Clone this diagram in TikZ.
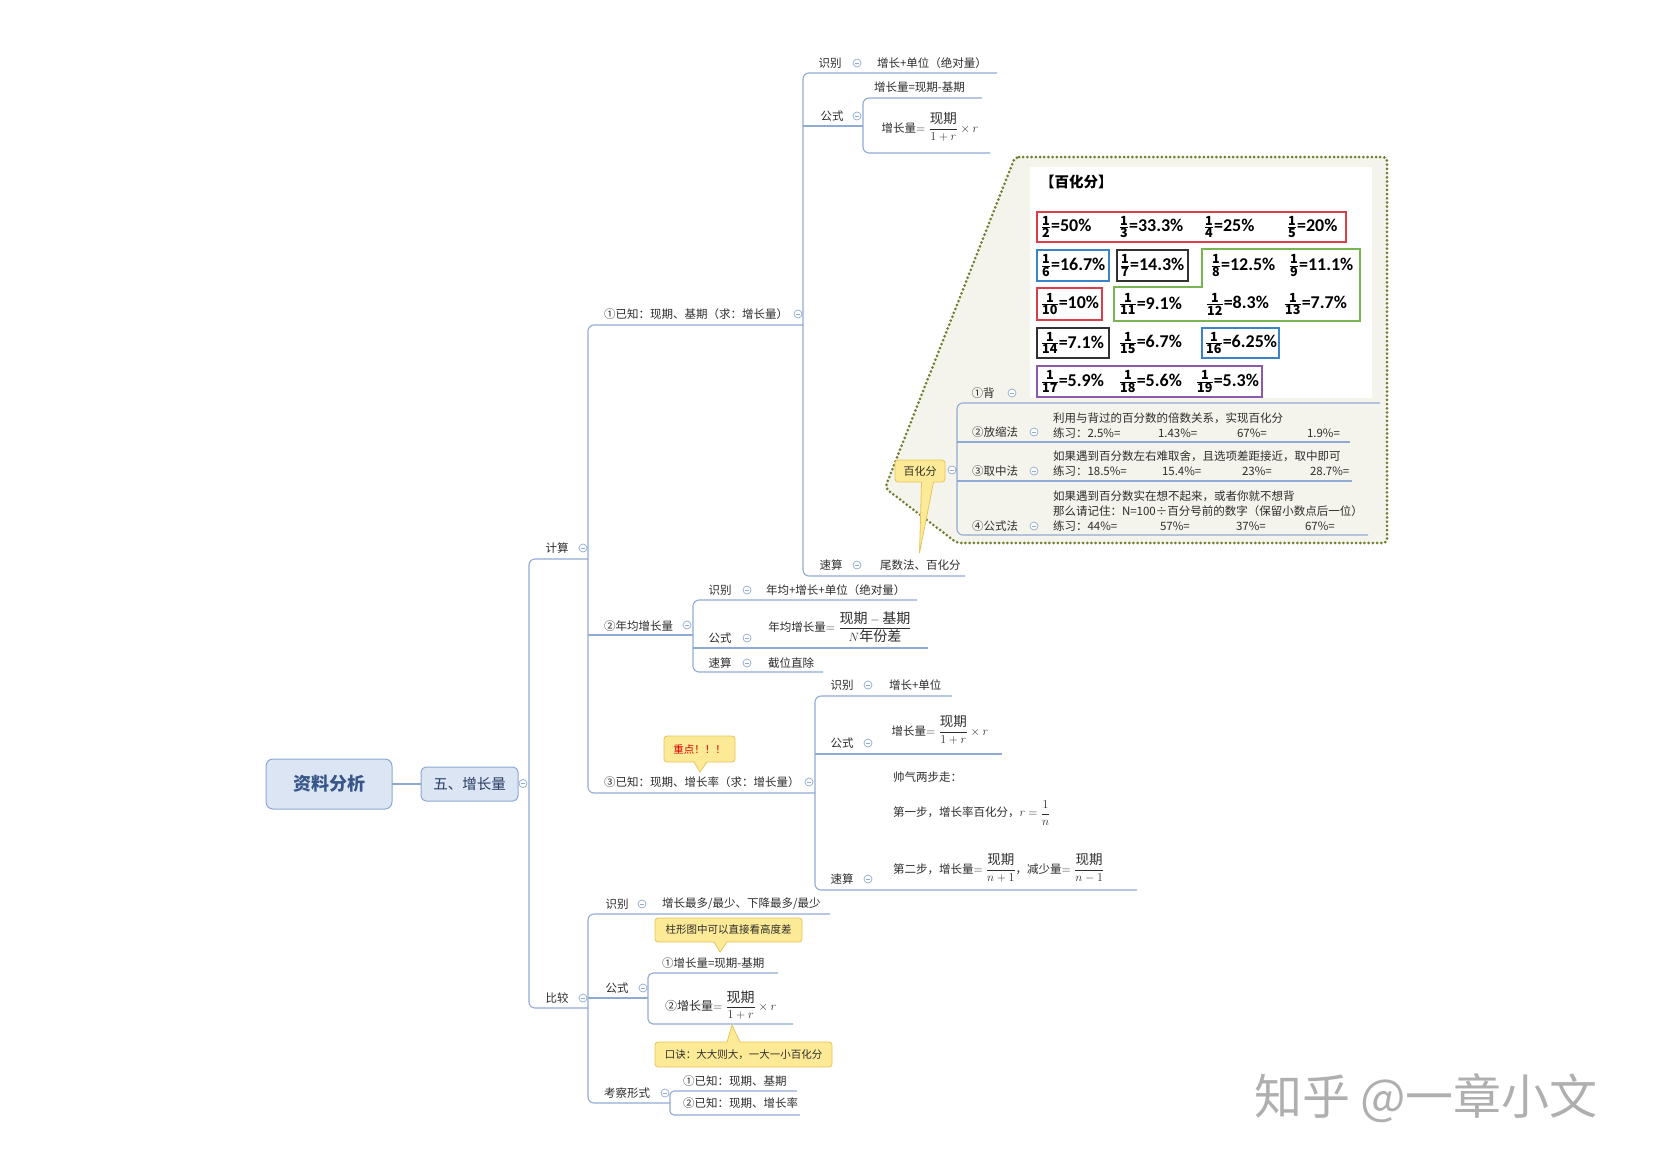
\documentclass[tikz,border=0pt]{standalone}
\usepackage{amsmath}
\usepackage{fontspec}
\setmainfont{Noto Sans CJK SC}
\newfontfamily\calib{Carlito}
\definecolor{lc}{RGB}{143,170,212}
\definecolor{txt}{RGB}{45,45,45}
\definecolor{rootfill}{RGB}{219,229,244}
\definecolor{rootdraw}{RGB}{140,168,210}
\definecolor{roottxt}{RGB}{56,86,138}
\definecolor{cy}{RGB}{253,234,150}
\definecolor{cb}{RGB}{230,196,90}
\definecolor{olive}{RGB}{112,128,48}
\definecolor{zone}{RGB}{245,244,236}
\definecolor{pred}{RGB}{218,62,72}
\definecolor{pblue}{RGB}{60,130,200}
\definecolor{pblack}{RGB}{50,50,50}
\definecolor{pgreen}{RGB}{120,180,80}
\definecolor{ppurple}{RGB}{140,90,170}
\definecolor{wm}{RGB}{175,175,175}
\begin{document}
\begin{tikzpicture}[x=1pt,y=-1pt,
  every node/.style={inner sep=0pt,outer sep=0pt,text=txt,font=\fontsize{11.5}{14}\selectfont},
  ln/.style={draw=lc,line width=1.1pt,rounded corners=6pt},
  cc/.style={circle,draw=lc,line width=0.7pt,minimum size=8pt,fill=white,
    path picture={\draw[lc,line width=0.7pt] ([xshift=-2pt]path picture bounding box.center) -- ([xshift=2pt]path picture bounding box.center);}},
  lw/.style={anchor=west},
  fml/.style={font=\fontsize{11.5}{13}\selectfont},
  callbox/.style={draw=cb,fill=cy,rounded corners=3pt,line width=0.8pt},
  pct/.style={anchor=west,text=black,font=\calib\bfseries\fontsize{18}{18}\selectfont},
  pbox/.style={line width=1.2pt}]
\useasboundingbox (0,0) rectangle (1653,1167);

% ---------- zone of the percentage callout ----------
\fill[zone] (1015,157) -- (1387,157) -- (1387,543) -- (957,543) -- (885,488) -- cycle;
\draw[olive,line width=3pt,line cap=round,dash pattern=on 0pt off 4.2pt,rounded corners=4pt]
  (1015,157) -- (1387,157) -- (1387,543) -- (957,543) -- (885,488) -- cycle;
\fill[white] (1030,167) rectangle (1372,398);

% ---------- root ----------
\node[draw=rootdraw,fill=rootfill,rounded corners=7pt,line width=1pt,minimum width=126pt,minimum height=50pt,
  text=roottxt,font=\bfseries\fontsize{18}{20}\selectfont] (root) at (329,784) {资料分析};
\node[draw=rootdraw,fill=rootfill,rounded corners=5pt,line width=1pt,minimum width=97pt,minimum height=34pt,
  text=roottxt!70!black,font=\fontsize{14.5}{16}\selectfont] (five) at (469.5,784) {五、增长量};
\draw[lc,line width=1.1pt] (root) -- (five);
\node[cc] (c0) at (523,783.5) {};

% ---------- trunk ----------
\draw[ln] (588,559) -- (529,559) -- (529,1008) -- (588,1008);

% ---------- 计算 ----------
\node (calc) at (557,548) {计算};
\node[cc] at (583,548) {};
\draw[ln] (803,325) -- (588,325) -- (588,793) -- (815,793);
\draw[ln] (588,635) -- (693,635);

% ① 已知 现期 基期
\node[lw] (k1) at (604,314) {①已知：现期、基期（求：增长量）};
\node[cc] at (798,314) {};
\draw[ln] (997,73) -- (803,73) -- (803,576) -- (965,576);
\draw[ln] (803,126) -- (863,126);
\node (k1a) at (830,63) {识别};
\node[cc] at (857,63) {};
\node[lw] at (877,63) {增长+单位（绝对量）};
\node (k1b) at (832,116) {公式};
\node[cc] at (857,116) {};
\draw[ln] (982,98) -- (863,98) -- (863,153) -- (990,153);
\node[lw] at (874,87) {增长量=现期-基期};
\node[fml] at (930,127) {增长量$=\dfrac{\text{\fontsize{13.5}{14}\selectfont 现期}}{1+r}\times r$};
\node (k1c) at (831,565) {速算};
\node[cc] at (857,565) {};
\node[lw] (wsf) at (880,565) {尾数法、百化分};

% 百化分 callout
\draw[ln] (1380,403) -- (957,403) -- (957,535) -- (1368,535);
\draw[ln] (957,442) -- (1350,442);
\draw[ln] (957,481) -- (1352,481);
\draw[lc,line width=1.1pt] (955,470) -- (957,470);
\node[callbox,minimum width=50pt,minimum height=22pt,font=\fontsize{11}{12}\selectfont] (bhf) at (920,471) {百化分};
\fill[cy] (921.5,480) -- (919.5,553) -- (933.5,480) -- cycle;
\draw[cb,line width=0.8pt] (921.5,482) -- (919.5,553) -- (933.5,482);
\node[cc] at (952,470) {};

\node at (983,393) {①背};
\node[cc] at (1012,393) {};
\node at (995,432) {②放缩法};
\node[cc] at (1034,432) {};
\node[lw] at (1053,418) {利用与背过的百分数的倍数关系，实现百化分};
\node[lw] at (1053,433) {练习：2.5\%=};
\node[lw] at (1158,433) {1.43\%=};
\node[lw] at (1237,433) {67\%=};
\node[lw] at (1307,433) {1.9\%=};
\node at (995,471) {③取中法};
\node[cc] at (1034,471) {};
\node[lw] at (1053,456) {如果遇到百分数左右难取舍，且选项差距接近，取中即可};
\node[lw] at (1053,471) {练习：18.5\%=};
\node[lw] at (1162,471) {15.4\%=};
\node[lw] at (1242,471) {23\%=};
\node[lw] at (1310,471) {28.7\%=};
\node at (995,526) {④公式法};
\node[cc] at (1034,526) {};
\node[lw] at (1053,496) {如果遇到百分数实在想不起来，或者你就不想背};
\node[lw] at (1053,511) {那么请记住：N=100÷百分号前的数字（保留小数点后一位）};
\node[lw] at (1053,526) {练习：44\%=};
\node[lw] at (1160,526) {57\%=};
\node[lw] at (1236,526) {37\%=};
\node[lw] at (1305,526) {67\%=};

% percentage table
\node[anchor=west,text=black,font=\bfseries\fontsize{14.5}{16}\selectfont] at (1040,182) {【百化分】};
\draw[pred,pbox] (1037,212) rectangle (1346,242);
\draw[pblue,pbox] (1037,250) rectangle (1109,281);
\draw[pblack,pbox] (1117,250) rectangle (1188,281);
\draw[pgreen,pbox] (1202,249) -- (1360,249) -- (1360,321) -- (1114,321) -- (1114,287) -- (1202,287) -- cycle;
\draw[pred,pbox] (1037,288) rectangle (1102,320);
\draw[pblack,pbox] (1037,328) rectangle (1109,358);
\draw[pblue,pbox] (1202,328) rectangle (1279,358);
\draw[ppurple,pbox] (1037,366) rectangle (1262,397);
\node[pct] at (1041,227) {$\frac{\mathbf{1}}{\mathbf{2}}$=50\%};
\node[pct] at (1119,227) {$\frac{\mathbf{1}}{\mathbf{3}}$=33.3\%};
\node[pct] at (1204,227) {$\frac{\mathbf{1}}{\mathbf{4}}$=25\%};
\node[pct] at (1287,227) {$\frac{\mathbf{1}}{\mathbf{5}}$=20\%};
\node[pct] at (1041,265.5) {$\frac{\mathbf{1}}{\mathbf{6}}$=16.7\%};
\node[pct] at (1120,265.5) {$\frac{\mathbf{1}}{\mathbf{7}}$=14.3\%};
\node[pct] at (1211,265.5) {$\frac{\mathbf{1}}{\mathbf{8}}$=12.5\%};
\node[pct] at (1289,265.5) {$\frac{\mathbf{1}}{\mathbf{9}}$=11.1\%};
\node[pct] at (1041,304) {$\frac{\mathbf{1}}{\mathbf{10}}$=10\%};
\node[pct] at (1119,304) {$\frac{\mathbf{1}}{\mathbf{11}}$=9.1\%};
\node[pct] at (1206,304) {$\frac{\mathbf{1}}{\mathbf{12}}$=8.3\%};
\node[pct] at (1284,304) {$\frac{\mathbf{1}}{\mathbf{13}}$=7.7\%};
\node[pct] at (1041,343) {$\frac{\mathbf{1}}{\mathbf{14}}$=7.1\%};
\node[pct] at (1119,343) {$\frac{\mathbf{1}}{\mathbf{15}}$=6.7\%};
\node[pct] at (1205,343) {$\frac{\mathbf{1}}{\mathbf{16}}$=6.25\%};
\node[pct] at (1041,381.5) {$\frac{\mathbf{1}}{\mathbf{17}}$=5.9\%};
\node[pct] at (1119,381.5) {$\frac{\mathbf{1}}{\mathbf{18}}$=5.6\%};
\node[pct] at (1196,381.5) {$\frac{\mathbf{1}}{\mathbf{19}}$=5.3\%};

% ② 年均增长量
\node[lw] (k2) at (604,626) {②年均增长量};
\node[cc] at (687,625) {};
\draw[ln] (917,600) -- (693,600) -- (693,672) -- (823,672);
\draw[ln] (693,648) -- (928,648);
\node at (720,590) {识别};
\node[cc] at (747,590) {};
\node[lw] at (766,590) {年均+增长+单位（绝对量）};
\node at (720,638) {公式};
\node[cc] at (747,638) {};
\node[font=\fontsize{11.5}{12}\selectfont] at (840,627) {年均增长量$=\dfrac{\text{\fontsize{14}{15}\selectfont 现期}-\text{\fontsize{14}{15}\selectfont 基期}}{N\text{\fontsize{14}{15}\selectfont 年份差}}$};
\node at (720,663) {速算};
\node[cc] at (747,663) {};
\node[lw] at (768,663) {截位直除};

% ③ 已知 现期 增长率
\node[lw] (k3) at (604,782) {③已知：现期、增长率（求：增长量）};
\node[cc] at (809,782) {};
\node[callbox,minimum width=71pt,minimum height=26pt,text=red!85!black,font=\fontsize{10.5}{12}\selectfont] (zd) at (699.5,749) {重点！！！};
\fill[cy] (694,761) -- (700,772) -- (707,761) -- cycle;
\draw[cb,line width=0.8pt] (694,762) -- (700,772) -- (707,762);
\draw[ln] (952,696) -- (815,696) -- (815,890) -- (1137,890);
\draw[ln] (815,754) -- (1002,754);
\node at (842,685) {识别};
\node[cc] at (868,685) {};
\node[lw] at (889,685) {增长+单位};
\node at (842,743) {公式};
\node[cc] at (868,743) {};
\node[fml] at (940,730) {增长量$=\dfrac{\text{\fontsize{13.5}{14}\selectfont 现期}}{1+r}\times r$};
\node at (842,879) {速算};
\node[cc] at (868,879) {};
\node[lw,fml] at (893,777) {帅气两步走：};
\node[lw,fml] at (893,813) {第一步，增长率百化分，$r=\dfrac{1}{n}$};
\node[lw,fml] at (893,868) {第二步，增长量$=\dfrac{\text{\fontsize{13.5}{14}\selectfont 现期}}{n+1}$，减少量$=\dfrac{\text{\fontsize{13.5}{14}\selectfont 现期}}{n-1}$};

% ---------- 比较 ----------
\node (cmp) at (557,998) {比较};
\node[cc] at (583,998) {};
\draw[ln] (830,914) -- (588,914) -- (588,1103) -- (670,1103);
\draw[ln] (588,998) -- (648,998);
\node at (617,904) {识别};
\node[cc] at (642,904) {};
\node[lw] at (662,904) {增长最多/最少、下降最多/最少};
\node at (617,988) {公式};
\node[cc] at (643,988) {};
\draw[ln,rounded corners=5pt] (778,973) -- (648,973) -- (648,1024) -- (793,1024);
\node[lw] at (662,963) {①增长量=现期-基期};
\node[lw,font=\fontsize{12}{13}\selectfont] at (665,1005) {②增长量$=\dfrac{\text{\fontsize{14}{15}\selectfont 现期}}{1+r}\times r$};
\node[callbox,minimum width=147pt,minimum height=24pt,font=\fontsize{10.5}{12}\selectfont] (zx) at (728.5,930) {柱形图中可以直接看高度差};
\fill[cy] (714,941) -- (720,952) -- (727,941) -- cycle;
\draw[cb,line width=0.8pt] (714,942) -- (720,952) -- (727,942);
\node[callbox,minimum width=177pt,minimum height=25pt,font=\fontsize{10.5}{12}\selectfont] (kj) at (743.5,1054.5) {口诀：大大则大，一大一小百化分};
\fill[cy] (727,1043) -- (732,1025) -- (740,1043) -- cycle;
\draw[cb,line width=0.8pt] (727,1042) -- (732,1025) -- (740,1042);
\node at (627,1093) {考察形式};
\node[cc] at (665,1093) {};
\draw[ln,rounded corners=4pt] (797,1091) -- (670,1091) -- (670,1115) -- (800,1115);
\node[lw] at (683,1081) {①已知：现期、基期};
\node[lw] at (683,1103) {②已知：现期、增长率};

% ---------- watermark ----------
\node[lw,text=wm,font=\fontsize{48}{50}\selectfont] (wmk) at (1254,1098) {知乎\hspace{10pt}@一章小文};
\end{tikzpicture}
\end{document}
